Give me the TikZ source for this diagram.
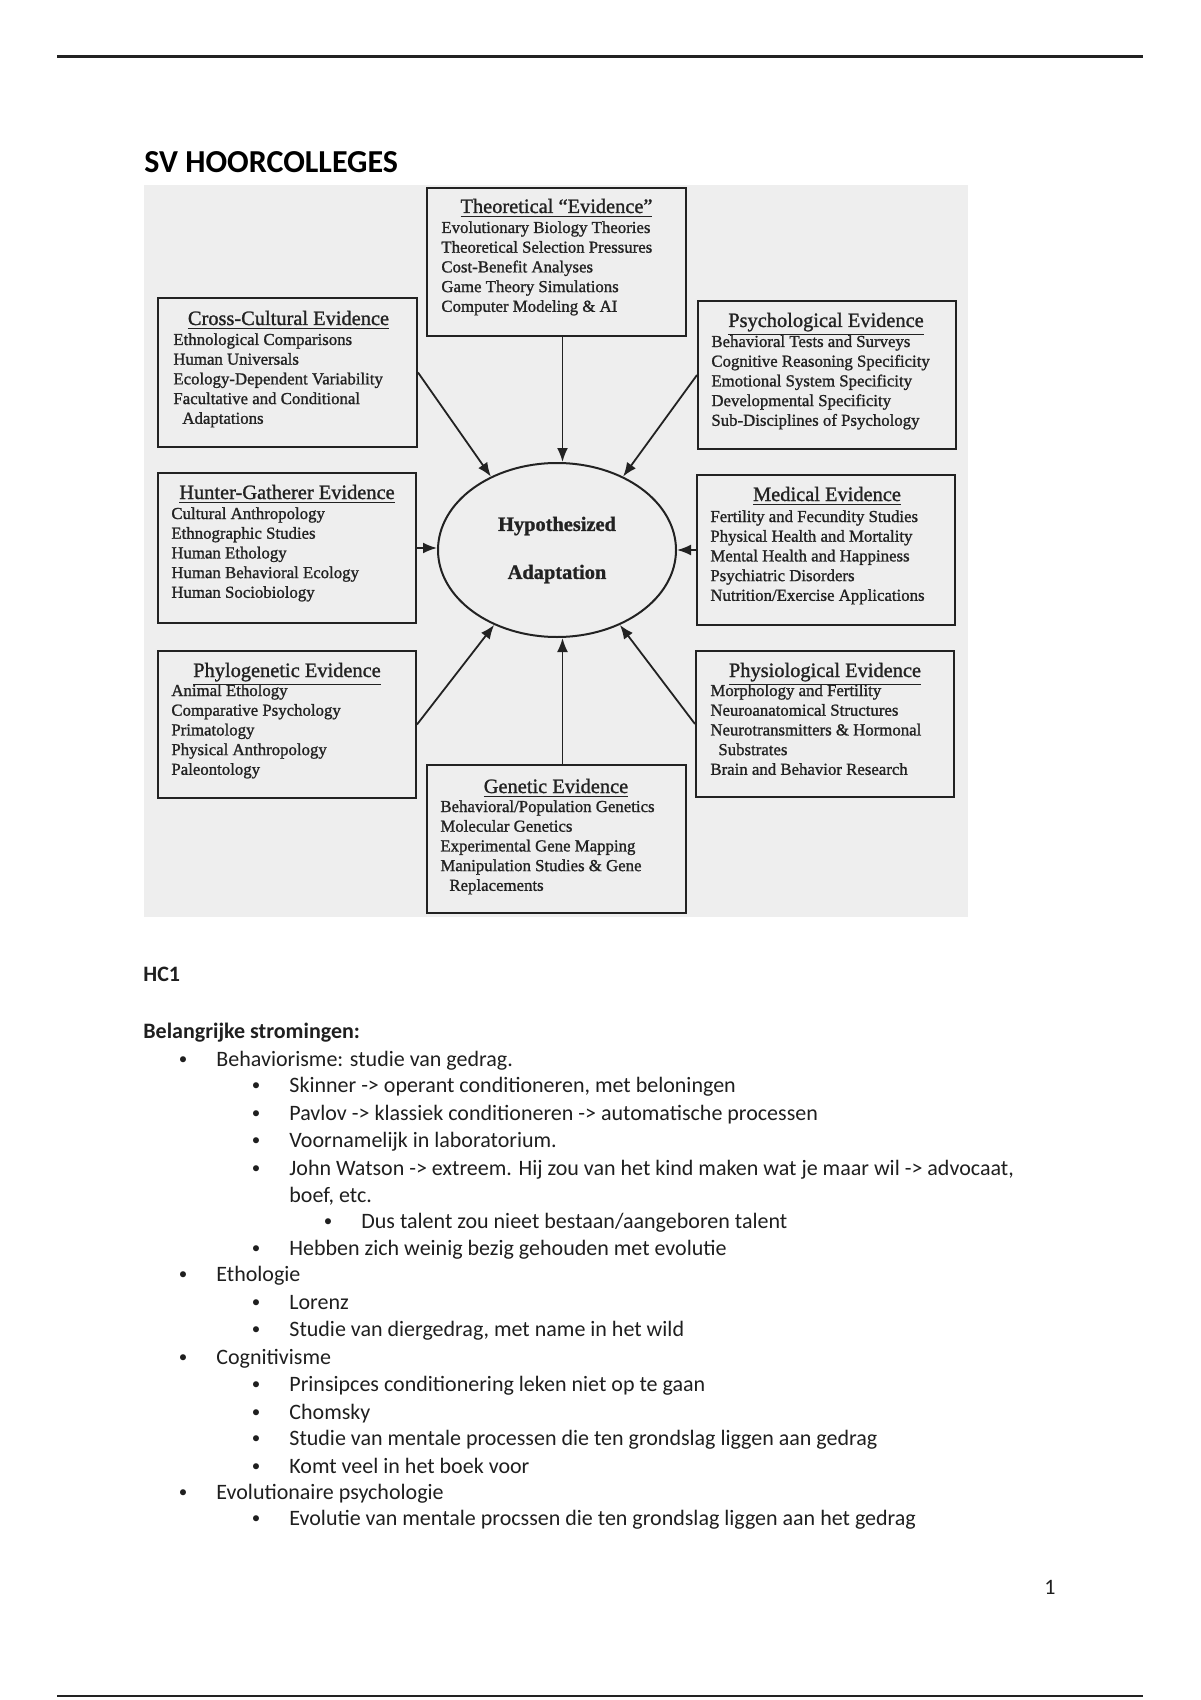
\documentclass[tikz,border=0pt]{standalone}
\usepackage{fontspec}
\setmainfont{Carlito}
\newfontfamily\scanf{Liberation Serif}[FakeBold=1.2]
\usetikzlibrary{arrows.meta,shapes.geometric}
\definecolor{scanbg}{HTML}{EEEEEE}
\definecolor{ink}{HTML}{222222}
\tikzset{
  evbox/.style={draw=ink, line width=1pt, rectangle, inner sep=0pt},
  ttl/.style={font=\scanf\fontsize{10.2}{12}\selectfont, inner sep=0pt, anchor=base, text=ink},
  itm/.style={font=\scanf\fontsize{8.4}{10}\selectfont, inner sep=0pt, anchor=base west, text=ink},
  arr/.style={-{Latex[length=7pt,width=5.5pt]}, line width=0.9pt, draw=ink},
  body/.style={font=\fontsize{11}{13}\selectfont, inner sep=0pt, anchor=base west, text=black!88},
  bul/.style={font=\fontsize{11}{13}\selectfont, inner sep=0pt, anchor=base, text=black!88},
}
\newcommand\bult{\raisebox{0.7pt}{\fontsize{8.5}{10}\selectfont\textbullet}}
\newcommand\evitems[4]{\foreach \itx [count=\i] in {#4} {\node[itm] (#1\i) at (#2,{#3+(\i-1)*19.7}) {\itx};}}
\begin{document}
\begin{tikzpicture}[x=0.5pt,y=-0.5pt]
\useasboundingbox (0,0) rectangle (1200,1700);
\fill[white] (0,0) rectangle (1200,1700);
% page rules
\draw[line width=1.5pt, ink] (57,57) -- (1143,57);
\draw[line width=1.2pt, ink] (57,1696) -- (1143,1696);
\node[anchor=base west, font=\bfseries\fontsize{16}{19}\selectfont, inner sep=0pt] (title) at (144,173) {SV HOORCOLLEGES};
% scanned figure background
\fill[scanbg] (144,185) rectangle (968,917);
% boxes
\node[evbox, minimum width=129.5pt, minimum height=74pt] (th) at (556.5,262) {};
\node[evbox, minimum width=129.5pt, minimum height=74.5pt] (cc) at (287.5,372.5) {};
\node[evbox, minimum width=129pt, minimum height=74pt] (ps) at (827,375) {};
\node[evbox, minimum width=129pt, minimum height=75pt] (hg) at (287,548) {};
\node[evbox, minimum width=129pt, minimum height=75pt] (md) at (826,550) {};
\node[evbox, minimum width=129pt, minimum height=73.5pt] (ph) at (287,724.5) {};
\node[evbox, minimum width=129pt, minimum height=73pt] (pz) at (825,724) {};
\node[evbox, minimum width=129.5pt, minimum height=74pt] (ge) at (556.5,839) {};
\node[draw=ink, line width=1pt, ellipse, inner sep=0pt, minimum width=119pt, minimum height=87pt,
      align=center, font=\scanf\bfseries\fontsize{10.2}{24}\selectfont, text=ink] (hyp) at (557,550) {Hypothesized\\Adaptation};
% titles
\node[ttl] (thT) at (556.5,213) {\underline{Theoretical “Evidence”}};
\node[ttl] (ccT) at (288.5,325) {\underline{Cross-Cultural Evidence}};
\node[ttl] (psT) at (826,327) {\underline{Psychological Evidence}};
\node[ttl] (hgT) at (287,499) {\underline{Hunter-Gatherer Evidence}};
\node[ttl] (mdT) at (827,501) {\underline{Medical Evidence}};
\node[ttl] (phT) at (287,677) {\underline{Phylogenetic Evidence}};
\node[ttl] (pzT) at (825,677) {\underline{Physiological Evidence}};
\node[ttl] (geT) at (556,793) {\underline{Genetic Evidence}};
% items
\evitems{thI}{441}{233}{Evolutionary Biology Theories,Theoretical Selection Pressures,Cost-Benefit Analyses,Game Theory Simulations,Computer Modeling \& AI}
\evitems{ccI}{173}{345}{Ethnological Comparisons,Human Universals,Ecology-Dependent Variability,Facultative and Conditional,\hspace*{4.5pt}Adaptations}
\evitems{psI}{711}{347}{Behavioral Tests and Surveys,Cognitive Reasoning Specificity,Emotional System Specificity,Developmental Specificity,Sub-Disciplines of Psychology}
\evitems{hgI}{171}{519}{Cultural Anthropology,Ethnographic Studies,Human Ethology,Human Behavioral Ecology,Human Sociobiology}
\evitems{mdI}{710}{522}{Fertility and Fecundity Studies,Physical Health and Mortality,Mental Health and Happiness,Psychiatric Disorders,Nutrition/Exercise Applications}
\evitems{phI}{171}{696}{Animal Ethology,Comparative Psychology,Primatology,Physical Anthropology,Paleontology}
\evitems{pzI}{710}{696}{Morphology and Fertility,Neuroanatomical Structures,Neurotransmitters \& Hormonal,\hspace*{4pt}Substrates,Brain and Behavior Research}
\evitems{geI}{440}{812}{Behavioral/Population Genetics,Molecular Genetics,Experimental Gene Mapping,Manipulation Studies \& Gene,\hspace*{4.5pt}Replacements}
% arrows
\draw[arr] ([xshift=3pt]th.south) -- ([xshift=3pt]th.south |- hyp.north);
\draw[arr] ([xshift=3pt]ge.north) -- ([xshift=3pt]ge.north |- hyp.south);
\draw[arr] (hg.east) -- (hg.east -| hyp.west);
\draw[arr] (md.west) -- (md.west -| hyp.east);
\draw[arr] (cc.east) -- (hyp.132);
\draw[arr] (ps.west) -- (hyp.48);
\draw[arr] (ph.east) -- (hyp.230);
\draw[arr] (pz.west) -- (hyp.310);
% body text
\node[body, font=\bfseries\fontsize{11}{13}\selectfont] (hc1) at (143,981) {HC1};
\node[body, font=\bfseries\fontsize{11}{13}\selectfont] (bs) at (143,1038) {Belangrijke stromingen:};
\node[bul] (b1) at (183,1066) {\bult};  \node[body] (t1) at (216,1066) {Behaviorisme: studie van gedrag.};
\node[bul] (b2) at (256,1092) {\bult};  \node[body] (t2) at (289,1092) {Skinner -> operant conditioneren, met beloningen};
\node[bul] (b3) at (256,1120) {\bult};  \node[body] (t3) at (289,1120) {Pavlov -> klassiek conditioneren -> automatische processen};
\node[bul] (b4) at (256,1147) {\bult};  \node[body] (t4) at (289,1147) {Voornamelijk in laboratorium.};
\node[bul] (b5) at (256,1175) {\bult};  \node[body] (t5) at (289,1175) {John Watson -> extreem. Hij zou van het kind maken wat je maar wil -> advocaat,};
\node[body] (t6) at (289,1202) {boef, etc.};
\node[bul] (b7) at (328,1228) {\bult};  \node[body] (t7) at (361,1228) {Dus talent zou nieet bestaan/aangeboren talent};
\node[bul] (b8) at (256,1255) {\bult};  \node[body] (t8) at (289,1255) {Hebben zich weinig bezig gehouden met evolutie};
\node[bul] (b9) at (183,1281) {\bult};  \node[body] (t9) at (216,1281) {Ethologie};
\node[bul] (b10) at (256,1309) {\bult}; \node[body] (t10) at (289,1309) {Lorenz};
\node[bul] (b11) at (256,1336) {\bult}; \node[body] (t11) at (289,1336) {Studie van diergedrag, met name in het wild};
\node[bul] (b12) at (183,1364) {\bult}; \node[body] (t12) at (216,1364) {Cognitivisme};
\node[bul] (b13) at (256,1391) {\bult}; \node[body] (t13) at (289,1391) {Prinsipces conditionering leken niet op te gaan};
\node[bul] (b14) at (256,1419) {\bult}; \node[body] (t14) at (289,1419) {Chomsky};
\node[bul] (b15) at (256,1445) {\bult}; \node[body] (t15) at (289,1445) {Studie van mentale processen die ten grondslag liggen aan gedrag};
\node[bul] (b16) at (256,1473) {\bult}; \node[body] (t16) at (289,1473) {Komt veel in het boek voor};
\node[bul] (b17) at (183,1499) {\bult}; \node[body] (t17) at (216,1499) {Evolutionaire psychologie};
\node[bul] (b18) at (256,1525) {\bult}; \node[body] (t18) at (289,1525) {Evolutie van mentale procssen die ten grondslag liggen aan het gedrag};
\node[bul] (pg) at (1050,1594) {1};
\end{tikzpicture}
\end{document}
